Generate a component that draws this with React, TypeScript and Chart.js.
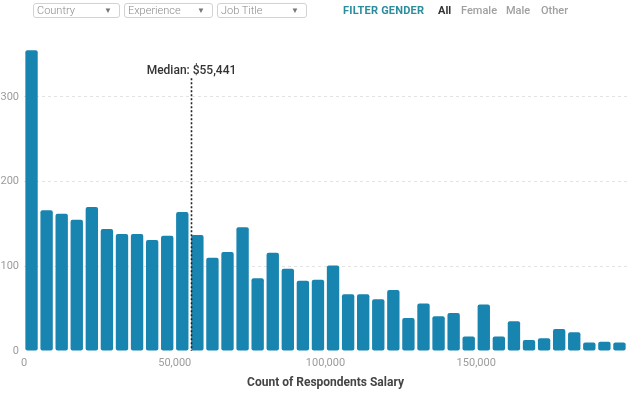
import React, { useEffect, useRef } from "react";
import { Chart, registerables } from "chart.js";

Chart.register(...registerables);

// ---- data ----
const binStarts = [
  0, 5000, 10000, 15000, 20000, 25000, 30000, 35000, 40000, 45000,
  50000, 55000, 60000, 65000, 70000, 75000, 80000, 85000, 90000, 95000,
  100000, 105000, 110000, 115000, 120000, 125000, 130000, 135000, 140000, 145000,
  150000, 155000, 160000, 165000, 170000, 175000, 180000, 185000, 190000, 195000,
];
const respondentCounts = [
  355, 166, 162, 155, 170, 144, 138, 138, 131, 136,
  164, 137, 110, 117, 146, 86, 116, 97, 83, 84,
  101, 67, 67, 61, 72, 39, 56, 41, 45, 17,
  55, 17, 35, 13, 15, 26, 22, 10, 11, 10,
];
const xTickValues = [0, 50000, 100000, 150000];
const yTickValues = [0, 100, 200, 300];
const salaryMin = 0;
const salaryMax = 200000;
const countMax = 360;
const medianSalary = 55441;
const medianLineTopCount = 322;
const medianLabelCount = 331;
const dropdownLabels = ["Country", "Experience", "Job Title"];
const genderOptions = ["All", "Female", "Male", "Other"];

const FONT = "Roboto, 'Open Sans', sans-serif";

const medianPlugin = {
  id: "medianLine",
  afterDatasetsDraw(chart: any) {
    const xs = chart.scales.xs;
    const y = chart.scales.y;
    const ctx = chart.ctx;
    const x = Math.round(xs.getPixelForValue(medianSalary)) + 0.5;
    ctx.save();
    ctx.strokeStyle = "#222";
    ctx.lineWidth = 1.6;
    ctx.setLineDash([2, 2]);
    ctx.beginPath();
    ctx.moveTo(x, y.getPixelForValue(medianLineTopCount));
    ctx.lineTo(x, y.getPixelForValue(0));
    ctx.stroke();
    ctx.setLineDash([]);
    ctx.fillStyle = "#333";
    ctx.font = `500 12px ${FONT}`;
    ctx.textAlign = "center";
    ctx.textBaseline = "middle";
    ctx.fillText(
      "Median: $" + medianSalary.toLocaleString("en-US"),
      x,
      y.getPixelForValue(medianLabelCount)
    );
    ctx.restore();
  },
};

function Dropdown({ label, left, width }: { label: string; left: number; width: number }) {
  return (
    <div
      style={{
        position: "absolute",
        left,
        top: 3,
        width,
        height: 15,
        border: "1px solid #d2d2d2",
        borderRadius: 3,
        boxSizing: "border-box",
        fontFamily: FONT,
        fontSize: 11,
        fontWeight: 300,
        color: "#8a8a8a",
        lineHeight: "13px",
        paddingLeft: 3,
        background: "#fff",
      }}
    >
      {label}
      <span style={{ position: "absolute", right: 7, top: 0, fontSize: 8, color: "#777" }}>▼</span>
    </div>
  );
}

export default function App() {
  const canvasRef = useRef<HTMLCanvasElement | null>(null);

  useEffect(() => {
    if (!canvasRef.current) return;
    const chart = new Chart(canvasRef.current, {
      type: "bar",
      data: {
        labels: binStarts.map((v) => String(v)),
        datasets: [
          {
            data: respondentCounts,
            backgroundColor: "#1884b0",
            borderRadius: 2,
            borderSkipped: false,
            barPercentage: 0.82,
            categoryPercentage: 1,
          },
        ],
      },
      options: {
        animation: false,
        responsive: false,
        maintainAspectRatio: false,
        layout: { padding: { left: 0, right: 8, top: 46, bottom: 0 } },
        plugins: { legend: { display: false }, tooltip: { enabled: false } },
        scales: {
          x: { display: false, offset: true, grid: { display: false } },
          xs: {
            type: "linear",
            position: "bottom",
            offset: false,
            min: salaryMin,
            max: salaryMax,
            afterBuildTicks: (s: any) => {
              s.ticks = xTickValues.map((v) => ({ value: v }));
            },
            grid: { display: false, offset: false, drawTicks: false },
            border: { display: false },
            ticks: {
              padding: 6,
              color: "#9c9c9c",
              font: { family: FONT, size: 11 },
              maxRotation: 0,
              autoSkip: false,
              callback: (v: any) => Number(v).toLocaleString("en-US"),
            },
            title: {
              display: true,
              text: "Count of Respondents Salary",
              color: "#444",
              font: { family: FONT, size: 12, weight: "bold" },
              padding: { top: 0, bottom: 3 },
            },
            afterFit: (s: any) => {
              s.height = 42;
            },
          },
          y: {
            min: 0,
            max: countMax,
            afterBuildTicks: (s: any) => {
              s.ticks = yTickValues.map((v) => ({ value: v }));
            },
            grid: {
              drawTicks: false,
              color: (c: any) => (c.tick && c.tick.value === 0 ? "rgba(0,0,0,0)" : "#e3e3e3"),
              lineWidth: 1,
            },
            border: { display: false, dash: [3, 3] },
            ticks: {
              padding: 5,
              color: "#9c9c9c",
              font: { family: FONT, size: 11 },
            },
            afterFit: (s: any) => {
              s.width = 24;
            },
          },
        },
      } as any,
      plugins: [medianPlugin],
    });
    return () => chart.destroy();
  }, []);

  const genderLefts = [438, 461, 506, 541];

  return (
    <div style={{ position: "fixed", left: 0, top: 0, width: 635, height: 393, background: "#fff" }}>
      <canvas ref={canvasRef} width={635} height={393} style={{ position: "absolute", left: 0, top: 0 }} />
      <Dropdown label={dropdownLabels[0]} left={33} width={87} />
      <Dropdown label={dropdownLabels[1]} left={124} width={89} />
      <Dropdown label={dropdownLabels[2]} left={217} width={90} />
      <div
        style={{
          position: "absolute",
          left: 343,
          top: 4,
          fontFamily: FONT,
          fontSize: 11,
          fontWeight: 700,
          color: "#2b8c9c",
          lineHeight: "14px",
          letterSpacing: 0.2,
        }}
      >
        FILTER GENDER
      </div>
      {genderOptions.map((g, i) => (
        <div
          key={g}
          style={{
            position: "absolute",
            left: genderLefts[i],
            top: 4,
            fontFamily: FONT,
            fontSize: 11,
            fontWeight: i === 0 ? 700 : 500,
            color: i === 0 ? "#333" : "#a0a0a0",
            lineHeight: "14px",
          }}
        >
          {g}
        </div>
      ))}
    </div>
  );
}
